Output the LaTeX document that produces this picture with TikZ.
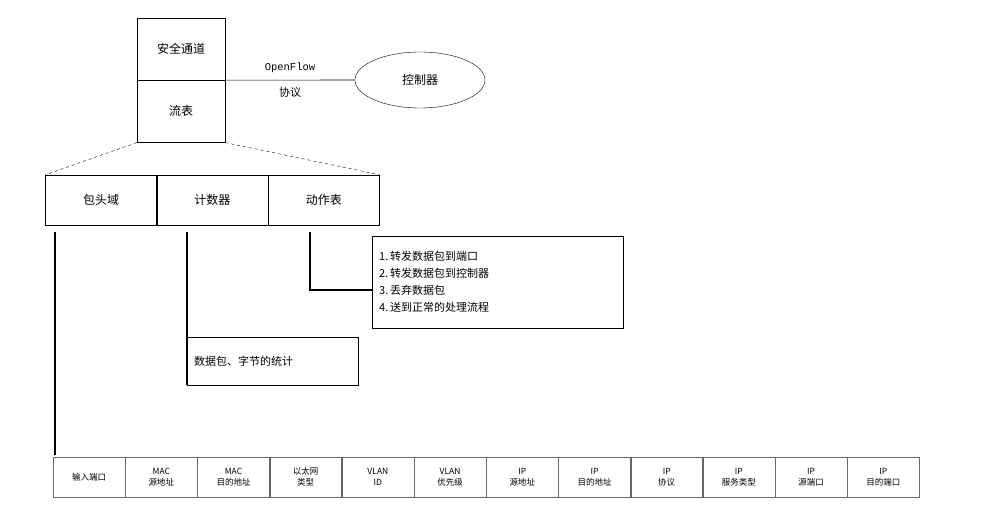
\documentclass[tikz,border=0pt]{standalone}
\usepackage{fontspec}
\setmainfont{Liberation Serif}
\newfontfamily\cjk{Noto Sans CJK SC}
\newfontfamily\mono{Liberation Mono}
\usetikzlibrary{positioning, shapes.geometric}

\begin{document}
\begin{tikzpicture}[
    x=1pt, y=-1pt,
    % Styles
    cell/.style={draw, thin, minimum width=111pt, minimum height=50pt, font=\cjk\fontsize{12}{14}\selectfont},
    field/.style={draw=black!60, thin, minimum width=71.8pt, minimum height=40pt, align=center, font=\cjk\fontsize{8.5}{11}\selectfont},
    infobox/.style={draw, thin, align=left, font=\cjk\fontsize{11}{17}\selectfont, inner sep=0pt},
    stem/.style={line width=2pt},
]
\useasboundingbox (0,0) rectangle (988,521);

% Switch
\node[draw, thin, minimum width=88pt, minimum height=62pt, font=\cjk\fontsize{12}{14}\selectfont] (chan) at (181,49) {安全通道};
\node[draw, thin, minimum width=88pt, minimum height=62pt, font=\cjk\fontsize{12}{14}\selectfont, below=0pt of chan] (flowtab) {流表};

% Controller
\node[draw, ellipse, minimum width=130pt, minimum height=56pt, font=\cjk\fontsize{12}{14}\selectfont] (ctrl) at (420,80) {控制器};
\draw[semithick] (chan.south east) -- (ctrl.west);
\node[font=\mono\fontsize{10.5}{12}\selectfont] (ofl) at (290,68) {OpenFlow};
\node[font=\cjk\fontsize{11}{12}\selectfont] (proto) at (290,92) {协议};

% Flow table entry
\node[cell] (hdr) at (101,200) {包头域};
\node[cell, right=0pt of hdr] (cnt) {计数器};
\node[cell, right=0pt of cnt] (act) {动作表};
\draw[dashed] (flowtab.south west) -- (hdr.north west);
\draw[dashed] (flowtab.south east) -- (act.north east);

% Actions
\node[infobox, text width=237pt, minimum height=92pt, inner xsep=7pt, anchor=north west] (actlist) at (372,236) {1.\,转发数据包到端口\\2.\,转发数据包到控制器\\3.\,丢弃数据包\\4.\,送到正常的处理流程};
\draw[stem] (310,232) |- (actlist.west |- 0,290);

% Counters
\node[infobox, text width=157pt, minimum height=48pt, inner xsep=7pt, anchor=north west] (cntbox) at (187,337) {数据包、字节的统计};
\draw[stem] (187,232) -- (cntbox.south west);

% Header fields
\node[field, anchor=north west] (f1) at (53,457) {输入端口};
\foreach \t [count=\i from 2] in {MAC\\源地址, MAC\\目的地址, 以太网\\类型, VLAN\\ID, VLAN\\优先级, IP\\源地址, IP\\目的地址, IP\\协议, IP\\服务类型, IP\\源端口, IP\\目的端口} {
  \pgfmathtruncatemacro\prev{\i-1}
  \node[field, right=0pt of f\prev] (f\i) {\t};
}
\draw[stem] (55,232) -- (55,455);

\end{tikzpicture}
\end{document}
